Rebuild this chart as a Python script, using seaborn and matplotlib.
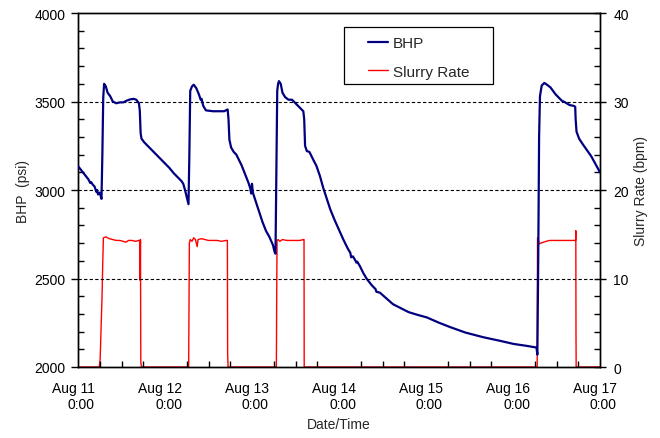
import numpy as np
import pandas as pd
import matplotlib
matplotlib.use("Agg")
import matplotlib.pyplot as plt
import matplotlib.dates as mdates
import matplotlib.ticker as mticker
from matplotlib.patches import Rectangle
from matplotlib.transforms import ScaledTranslation
import seaborn as sns

# ---------------- data (days since Aug 11 0:00) ----------------
bhp_days = [0.00, 0.04, 0.08, 0.12, 0.14, 0.15, 0.17, 0.19, 0.21, 0.22, 0.23, 0.25, 0.27,
            0.28, 0.29, 0.30, 0.32, 0.34, 0.37, 0.40, 0.44, 0.48, 0.52, 0.56, 0.60, 0.64,
            0.67, 0.70, 0.71, 0.72, 0.73, 0.76, 0.80, 0.85, 0.90, 0.95, 1.00, 1.05, 1.10,
            1.14, 1.17, 1.19, 1.21, 1.23, 1.25, 1.27,
            1.28, 1.29, 1.31, 1.33, 1.36, 1.39, 1.41, 1.42, 1.44, 1.47, 1.55, 1.62, 1.68,
            1.72, 1.73, 1.74, 1.76, 1.79, 1.82, 1.85, 1.88, 1.92, 1.96, 1.98, 1.99, 2.00,
            2.01, 2.04, 2.08, 2.12, 2.16, 2.20, 2.24, 2.26, 2.27,
            2.28, 2.29, 2.30, 2.31, 2.33, 2.35, 2.38, 2.42, 2.46, 2.48, 2.52, 2.56, 2.59,
            2.60, 2.61, 2.63, 2.66, 2.68, 2.71, 2.74, 2.78, 2.82, 2.86, 2.90, 2.95, 3.00,
            3.05, 3.10, 3.13, 3.14, 3.16, 3.19, 3.20, 3.21, 3.24, 3.28, 3.32, 3.38, 3.42,
            3.43, 3.47, 3.55, 3.62, 3.70, 3.80, 3.90, 4.01, 4.15, 4.28, 4.45, 4.66, 4.85,
            5.01, 5.15, 5.27, 5.28,
            5.29, 5.30, 5.31, 5.33, 5.36, 5.39, 5.43, 5.46, 5.49, 5.52, 5.56, 5.60, 5.65,
            5.70, 5.715, 5.72, 5.73, 5.76, 5.80, 5.85, 5.90, 5.95, 6.00]
bhp_psi = [3135, 3110, 3085, 3060, 3040, 3045, 3030, 3020, 2990, 3000, 2975, 2985, 2950,
           3200, 3520, 3600, 3585, 3550, 3530, 3500, 3490, 3495, 3495, 3505, 3512, 3515,
           3510, 3490, 3450, 3320, 3290, 3270, 3250, 3225, 3200, 3175, 3150, 3125, 3095,
           3075, 3060, 3050, 3035, 3000, 2960, 2920,
           3200, 3560, 3585, 3595, 3575, 3540, 3510, 3515, 3475, 3450, 3445, 3445, 3445,
           3455, 3400, 3285, 3240, 3215, 3200, 3170, 3140, 3090, 3040, 3010, 2980, 3035,
           2985, 2940, 2880, 2820, 2770, 2735, 2690, 2650, 2640,
           3100, 3560, 3600, 3615, 3600, 3550, 3525, 3510, 3510, 3500, 3480, 3460, 3445,
           3400, 3250, 3220, 3215, 3195, 3165, 3137, 3080, 3010, 2950, 2890, 2830, 2775,
           2720, 2670, 2645, 2620, 2625, 2600, 2590, 2595, 2570, 2530, 2497, 2460, 2440,
           2425, 2420, 2385, 2355, 2335, 2310, 2295, 2280, 2250, 2225, 2195, 2168, 2148,
           2130, 2120, 2110, 2070,
           2600, 3300, 3530, 3590, 3605, 3595, 3580, 3560, 3540, 3525, 3505, 3495, 3480,
           3475, 3470, 3400, 3330, 3290, 3260, 3225, 3190, 3145, 3100]

rate_days = [0.00, 0.245, 0.255, 0.265, 0.275, 0.285, 0.292, 0.32, 0.36, 0.40, 0.44, 0.48,
             0.52, 0.55, 0.58, 0.62, 0.66, 0.70, 0.712, 0.714, 0.718, 0.722, 0.73,
             1.272, 1.276, 1.280, 1.29, 1.31, 1.33, 1.35, 1.37, 1.38, 1.42, 1.46, 1.50,
             1.55, 1.60, 1.65, 1.70, 1.717, 1.72, 1.725,
             2.280, 2.284, 2.288, 2.30, 2.32, 2.35, 2.40, 2.45, 2.50, 2.55, 2.59, 2.598, 2.60,
             5.278, 5.282, 5.29, 5.30, 5.32, 5.35, 5.38, 5.42, 5.46, 5.50, 5.55, 5.60, 5.65,
             5.70, 5.72, 5.722, 5.724, 5.726, 6.00]
rate_bpm = [0.0, 0.0, 1.0, 4.3, 7.5, 12.0, 14.6, 14.7, 14.5, 14.4, 14.3, 14.3,
            14.2, 14.1, 14.3, 14.3, 14.2, 14.3, 14.3, 9.8, 14.4, 0.5, 0.0,
            0.0, 7.0, 14.0, 14.4, 14.2, 14.6, 14.4, 13.6, 14.4, 14.5, 14.4, 14.3,
            14.3, 14.3, 14.2, 14.3, 14.3, 1.5, 0.0,
            0.0, 8.0, 14.3, 14.4, 14.2, 14.4, 14.3, 14.3, 14.3, 14.3, 14.4, 14.4, 0.0,
            0.0, 14.6, 14.5, 13.9, 14.0, 14.1, 14.2, 14.3, 14.3, 14.3, 14.3, 14.3, 14.3,
            14.3, 14.3, 15.4, 4.0, 0.0, 0.0]

start = pd.Timestamp("2000-08-11 00:00")
tick_days = [0, 1, 2, 3, 4, 5, 6]
bhp_ticks = [2000, 2500, 3000, 3500, 4000]
rate_ticks = [0, 10, 20, 30, 40]
grid_levels = [2500, 3000, 3500]

bhp_df = pd.DataFrame({"time": start + pd.to_timedelta(bhp_days, unit="D"), "BHP": bhp_psi})
rate_df = pd.DataFrame({"time": start + pd.to_timedelta(rate_days, unit="D"), "Rate": rate_bpm})

# ---------------- style ----------------
sns.set_theme(style="white")
plt.rcParams["font.family"] = ["Liberation Sans", "DejaVu Sans"]
plt.rcParams["font.size"] = 10

fig = plt.figure(figsize=(6.6, 4.39), dpi=100)
ax = fig.add_axes([78 / 660, 1 - 368 / 439, 522 / 660, 354 / 439])
ax2 = ax.twinx()

for lvl in grid_levels:
    ax.axhline(lvl, color="black", lw=0.8, ls=(0, (3, 2)), zorder=1)

sns.lineplot(data=rate_df, x="time", y="Rate", ax=ax2, color="#FF0000", lw=1.0,
             label="Slurry Rate", legend=False, zorder=2)
sns.lineplot(data=bhp_df, x="time", y="BHP", ax=ax, color="#000080", lw=1.6,
             label="BHP", legend=False, zorder=3)
# put BHP on top of rate
ax.set_zorder(ax2.get_zorder() + 1)
ax.patch.set_visible(False)

xmin = start
xmax = start + pd.Timedelta(days=6)
ax.set_xlim(xmin, xmax)
ax.set_ylim(2000, 4000)
ax2.set_ylim(0, 40)

ax.set_yticks(bhp_ticks)
ax.yaxis.set_minor_locator(mticker.MultipleLocator(100))
ax2.set_yticks(rate_ticks)
ax2.yaxis.set_minor_locator(mticker.MultipleLocator(2))

xt = [start + pd.Timedelta(days=d) for d in tick_days]
ax.set_xticks(xt)
ax.set_xticklabels([f"{t:%b} {t.day}\n{t.hour}:{t:%M}" for t in xt])
ax.xaxis.set_minor_locator(mdates.HourLocator(byhour=[0, 6, 12, 18]))

ax.tick_params(axis="x", which="major", direction="inout", length=8, width=1, colors="black",
               labelsize=10, pad=6)
ax.tick_params(axis="x", which="minor", direction="in", length=4, width=1, colors="black")
ax.tick_params(axis="y", which="major", direction="out", length=5, width=1, colors="black",
               labelsize=10, pad=4)
ax.tick_params(axis="y", which="minor", direction="in", length=4, width=1, colors="black")
ax2.tick_params(axis="y", which="major", direction="inout", length=9, width=1, colors="black",
                labelsize=10, pad=5)
ax2.tick_params(axis="y", which="minor", direction="in", length=4, width=1, colors="black")
ax.tick_params(axis="x", which="minor", bottom=True)
ax.tick_params(axis="y", which="minor", left=True)
ax2.tick_params(axis="y", which="minor", right=True)

off = ScaledTranslation(-5 / 100, 0, fig.dpi_scale_trans)
for lab in ax.get_xticklabels():
    lab.set_multialignment("right")
    lab.set_transform(lab.get_transform() + off)

for a in (ax, ax2):
    for s in a.spines.values():
        s.set_color("black")
        s.set_linewidth(1.0)

ax.set_xlabel("Date/Time", fontsize=10, labelpad=4)
ax.set_ylabel("BHP  (psi)", fontsize=10, labelpad=3)
ax2.set_ylabel("Slurry Rate (bpm)", fontsize=10, labelpad=4)

# legend
h1, l1 = ax.get_legend_handles_labels()
h2, l2 = ax2.get_legend_handles_labels()
leg = ax.legend(h1 + h2, l1 + l2, loc="upper left", bbox_to_anchor=(0.556, 0.935),
                frameon=False, borderpad=0, borderaxespad=0, handlelength=1.3,
                handletextpad=0.3, labelspacing=0.95, fontsize=11)
ax.add_patch(Rectangle((0.5096, 0.7994), 0.795 - 0.5096, 0.9605 - 0.7994,
                       transform=ax.transAxes, fill=False, edgecolor="black", lw=0.9,
                       zorder=5))

fig.savefig("out.png", dpi=100)
